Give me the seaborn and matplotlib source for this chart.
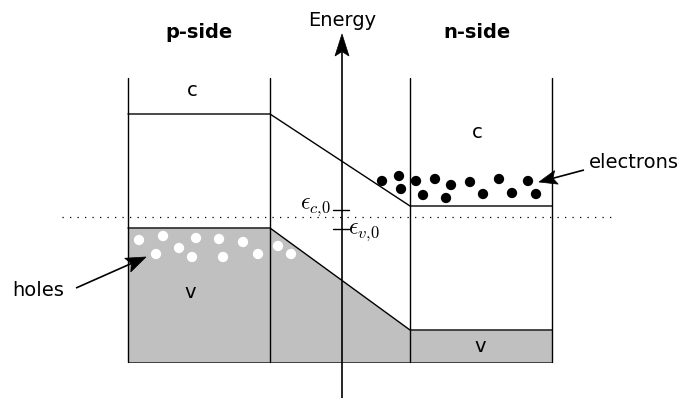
import matplotlib
matplotlib.use("Agg")
import matplotlib.pyplot as plt
import seaborn as sns
import numpy as np
import pandas as pd

sns.set_style("white")
plt.rcParams["font.family"] = ["DejaVu Sans"]
plt.rcParams["text.color"] = "black"
plt.rcParams["mathtext.fontset"] = "cm"

# band-edge positions across the junction (drawing units, y grows downward)
region_x = [128, 270, 410, 552]
conduction_y = [114, 114, 206, 206]
valence_y = [228, 228, 330, 330]
band_bottom = 362
band_top = 78
fermi_y = 217

# free electrons in the n-side conduction band
electron_x = [382, 399, 401, 416, 423, 435, 451, 446, 470, 483, 499, 512, 528, 536]
electron_y = [181, 176, 189, 181, 195, 179, 185, 198, 182, 194, 179, 193, 181, 194]

# holes in the p-side valence band
hole_x = [139, 163, 179, 156, 196, 192, 219, 223, 243, 258, 278, 291]
hole_y = [240, 236, 248, 254, 238, 257, 239, 257, 242, 254, 246, 254]

fig = plt.figure(figsize=(6.81, 4.01), dpi=100)
ax = fig.add_axes([0, 0, 1, 1])


def stealth_arrow(ax, start, tip, head_len=20, head_w=12, lw=1.2):
    """Line from start to tip ending in a filled stealth-style head."""
    start = np.asarray(start, float)
    tip = np.asarray(tip, float)
    d = tip - start
    d /= np.hypot(*d)
    n = np.array([-d[1], d[0]])
    back = tip - d * head_len
    notch = tip - d * head_len * 0.8
    ax.plot([start[0], notch[0]], [start[1], notch[1]], color="black", lw=lw,
            solid_capstyle="butt", zorder=6)
    head = np.array([tip, back + n * head_w / 2, notch, back - n * head_w / 2])
    ax.fill(head[:, 0], head[:, 1], color="black", lw=0.5, ec="black", zorder=6)


# filled valence band
ax.fill_between(region_x, valence_y, band_bottom, color="#c0c0c0", lw=0, zorder=1)

# region boundaries
for x in region_x:
    ax.plot([x, x], [band_top, band_bottom], color="black", lw=1.0, zorder=3)

# band edges
ax.plot(region_x, conduction_y, color="black", lw=1.0, zorder=3)
ax.plot(region_x, valence_y, color="black", lw=1.0, zorder=3)
ax.plot([region_x[0], region_x[-1]], [band_bottom, band_bottom], color="black", lw=0.5, zorder=3)

# Fermi level
ax.plot([62, 612], [fermi_y, fermi_y], color="black", lw=0.9, ls=(0, (1, 5)), zorder=2)

# energy axis
stealth_arrow(ax, (342, 398), (342, 34), head_len=22, head_w=14)
ax.text(342, 20, "Energy", ha="center", va="center", fontsize=14)

# band-edge markers at the junction centre
ax.plot([333, 349], [210, 210], color="black", lw=1.0, zorder=4)
ax.plot([333, 349], [229, 229], color="black", lw=1.0, zorder=4)
ax.text(331, 206, r"$\epsilon_{c{,}0}$", ha="right", va="center", fontsize=17)
ax.text(348, 231, r"$\epsilon_{v{,}0}$", ha="left", va="center", fontsize=17)

# carriers
carriers = pd.DataFrame({"x": electron_x, "y": electron_y})
sns.scatterplot(data=carriers, x="x", y="y", color="black", s=55,
                edgecolor="none", ax=ax, zorder=5)
holes = pd.DataFrame({"x": hole_x, "y": hole_y})
sns.scatterplot(data=holes, x="x", y="y", color="white", s=55,
                edgecolor="none", ax=ax, zorder=5)
ax.set_xlim(0, 681)
ax.set_ylim(401, 0)
ax.axis("off")

# labels
ax.text(199, 33, "p-side", ha="center", va="center", fontsize=14, fontweight="bold")
ax.text(477, 33, "n-side", ha="center", va="center", fontsize=14, fontweight="bold")
ax.text(192, 90, "c", ha="center", va="center", fontsize=14)
ax.text(477, 132, "c", ha="center", va="center", fontsize=14)
ax.text(190, 292, "v", ha="center", va="center", fontsize=14)
ax.text(480, 346, "v", ha="center", va="center", fontsize=14)

ax.text(589, 163, "electrons", ha="left", va="center", fontsize=14)
stealth_arrow(ax, (584, 170), (539, 182), head_len=18, head_w=14)
ax.text(12, 290, "holes", ha="left", va="center", fontsize=14)
stealth_arrow(ax, (76, 288), (146, 257), head_len=20, head_w=15)

fig.savefig("out.png", dpi=100)
